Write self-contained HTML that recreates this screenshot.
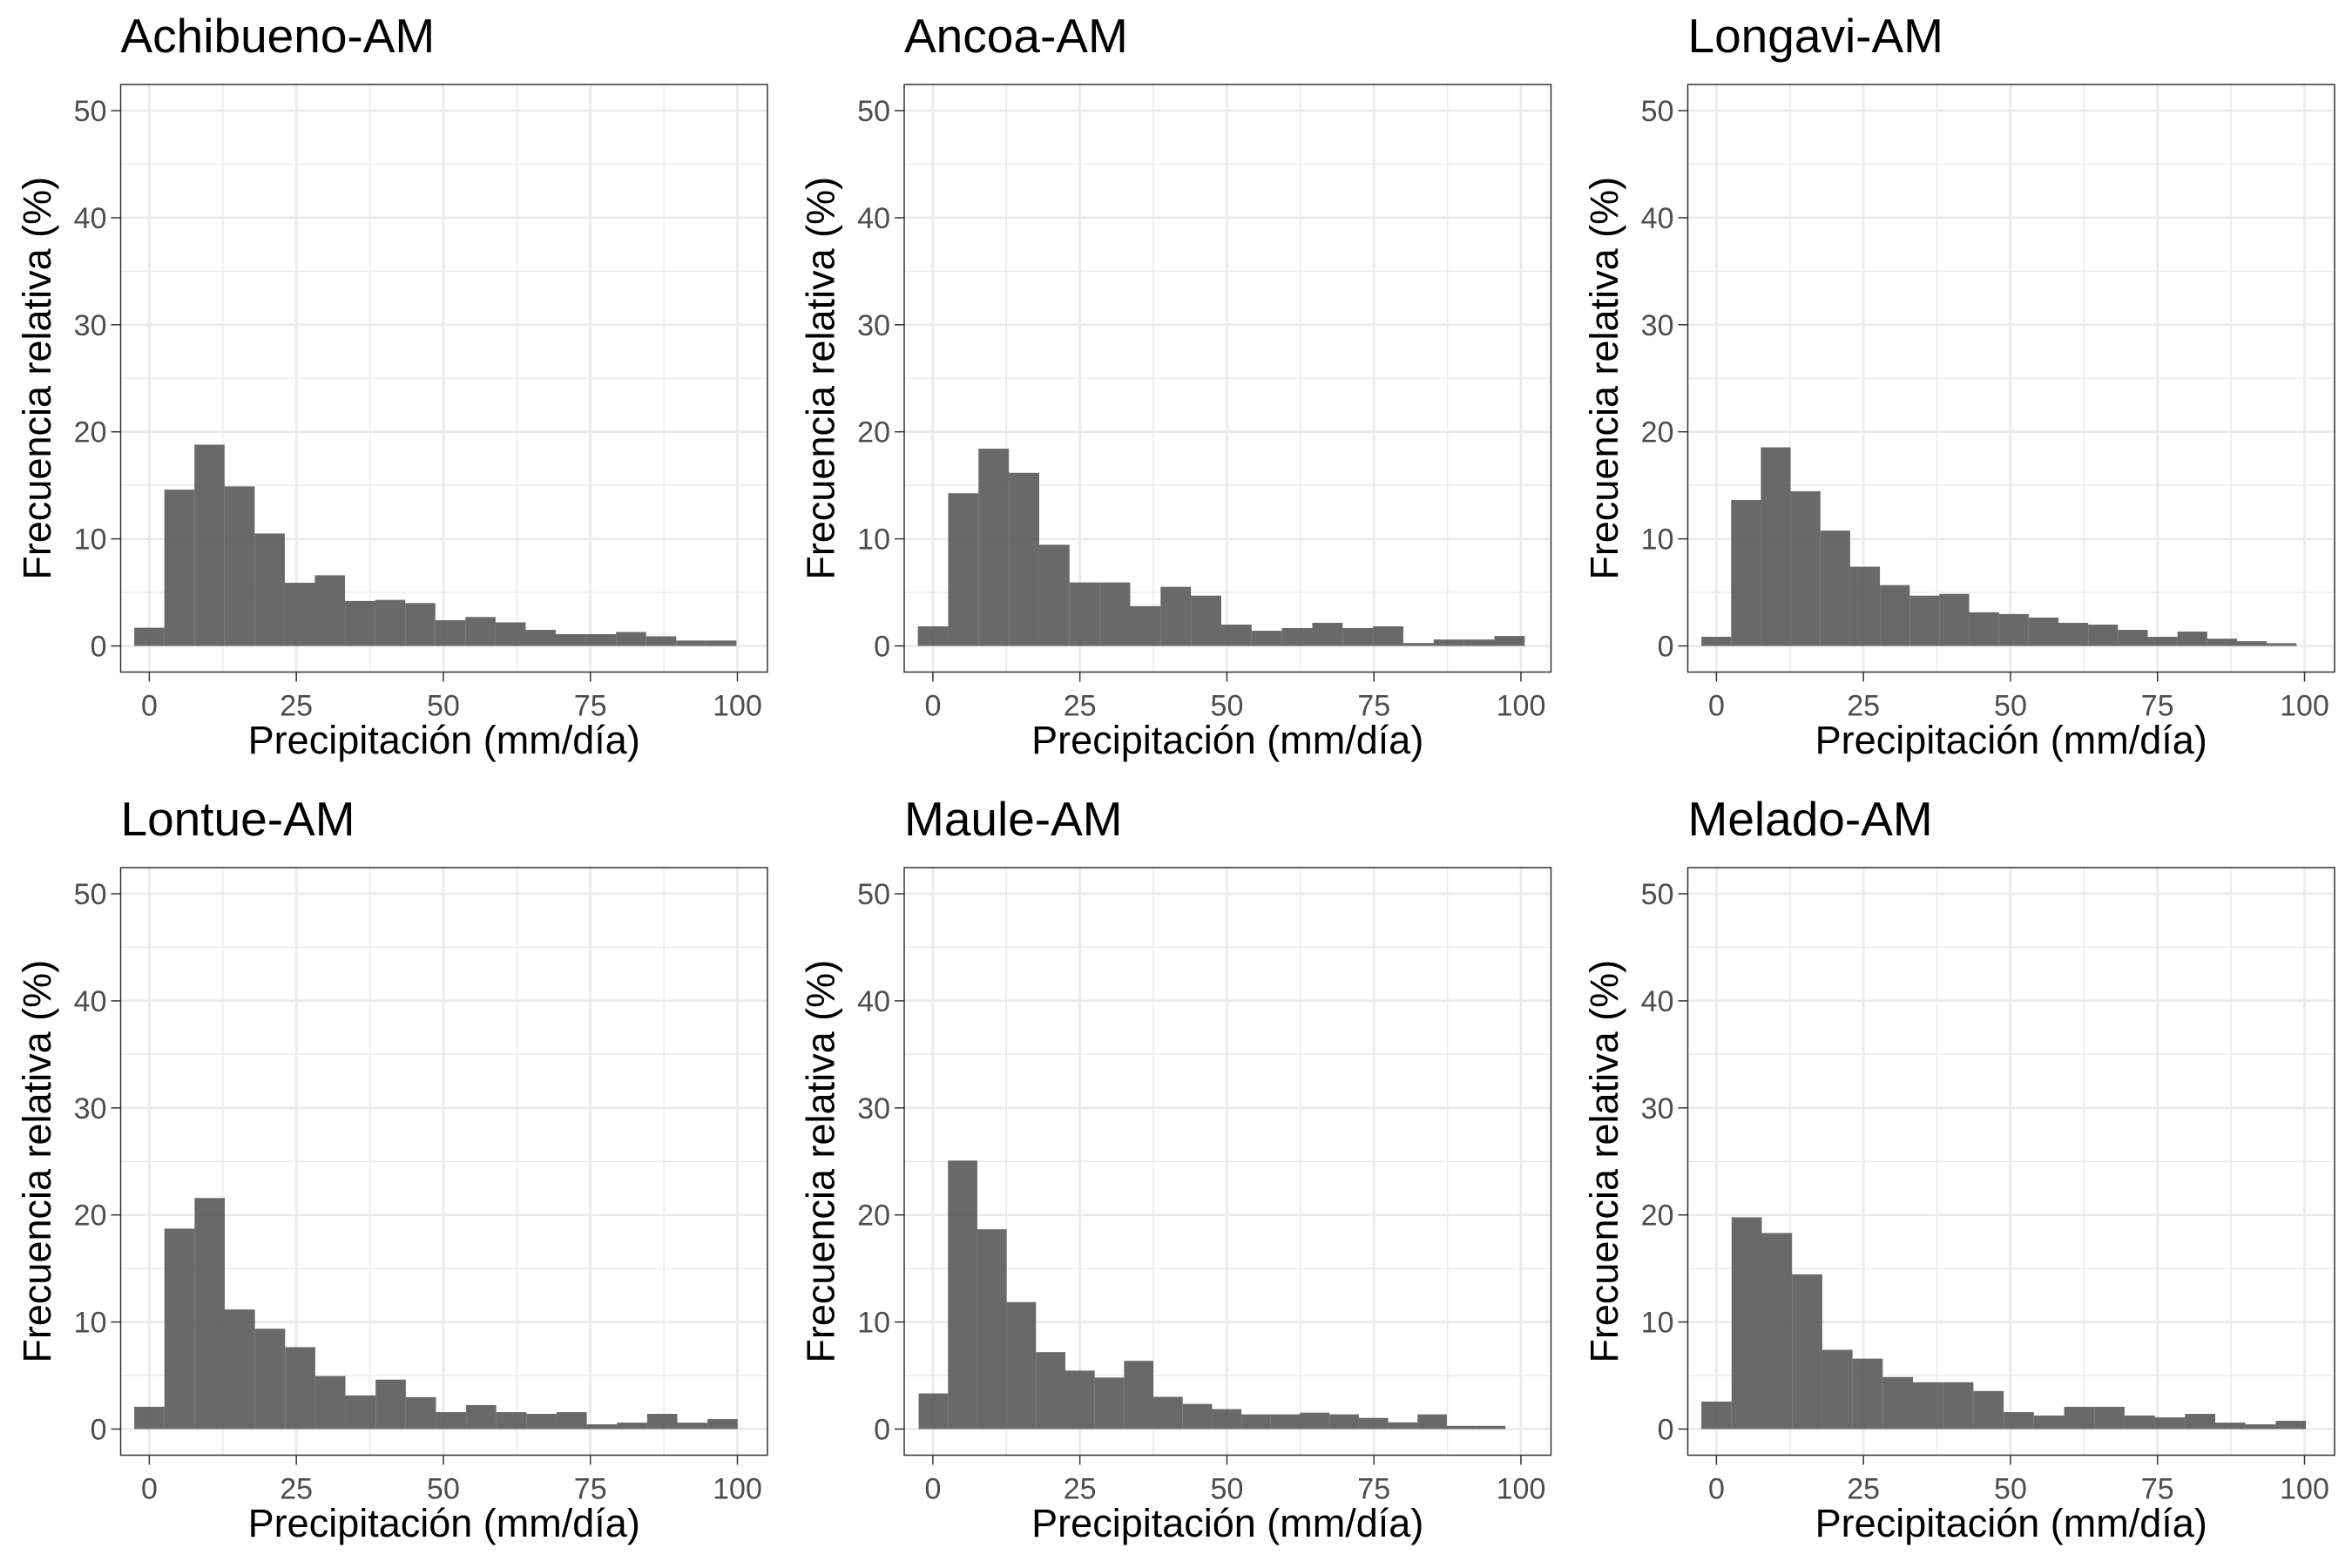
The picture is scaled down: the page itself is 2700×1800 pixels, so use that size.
<!DOCTYPE html>
<html><head><meta charset="utf-8"><style>
html,body{margin:0;padding:0;background:#fff;}
svg{display:block;font-family:"Liberation Sans",sans-serif;}
</style></head><body>
<svg id="fig" width="2700" height="1800" viewBox="0 0 2700 1800" xmlns="http://www.w3.org/2000/svg"></svg>
<script>
const panelNames = ["Achibueno-AM","Ancoa-AM","Longavi-AM","Lontue-AM","Maule-AM","Melado-AM"];
const binStarts = [-2.56,-2.56,-2.56,-2.56,-2.42,-2.56];
const binWidths = [5.12,5.16,5.06,5.13,4.99,5.14];
const achibueno = [1.7,14.6,18.8,14.9,10.5,5.9,6.6,4.2,4.3,4.0,2.4,2.7,2.2,1.5,1.1,1.1,1.3,0.9,0.5,0.5];
const ancoa = [1.83,14.26,18.42,16.17,9.45,5.93,5.93,3.72,5.52,4.70,1.99,1.42,1.67,2.16,1.67,1.83,0.27,0.60,0.60,0.93];
const longavi = [0.85,13.63,18.55,14.45,10.77,7.40,5.68,4.70,4.86,3.14,2.98,2.65,2.16,1.99,1.50,0.85,1.34,0.68,0.44,0.25];
const lontue = [2.08,18.72,21.58,11.17,9.37,7.65,4.95,3.14,4.62,2.98,1.58,2.24,1.58,1.42,1.58,0.44,0.60,1.42,0.60,0.93];
const maule = [3.33,25.08,18.66,11.86,7.19,5.46,4.81,6.37,3.01,2.35,1.86,1.37,1.37,1.53,1.37,1.04,0.63,1.37,0.30,0.30];
const melado = [2.57,19.78,18.31,14.45,7.40,6.58,4.86,4.37,4.37,3.55,1.58,1.26,2.08,2.08,1.26,1.09,1.42,0.60,0.44,0.77];
const seriesList = [achibueno,ancoa,longavi,lontue,maule,melado];
const xTicks = [0,25,50,75,100];
const yTicks = [0,10,20,30,40,50];
const xMinor = [12.5,37.5,62.5,87.5];
const yMinor = [5,15,25,35,45];

const NS="http://www.w3.org/2000/svg";
const svg=document.getElementById('fig');
function mk(tag,attrs,parent,text){const e=document.createElementNS(NS,tag);for(const k in attrs)e.setAttribute(k,attrs[k]);if(text!==undefined)e.textContent=text;parent.appendChild(e);return e;}

const boxW=742.5, boxH=674.5;
for(let p=0;p<6;p++){
  const ox=(p%3)*899.5, oy=Math.floor(p/3)*899;
  const L=138.5+ox, T=97+oy, R=L+boxW, B=T+boxH;
  const xs=v=>171.4+ox+(v)*(846.5-171.4)/100;
  const ys=v=>741.5+oy-v*12.29;
  const g=mk('g',{},svg);
  
  
  mk('rect',{x:L,y:T,width:boxW,height:boxH,fill:'#fff'},g);
  yMinor.forEach(v=>mk('line',{x1:L,x2:R,y1:ys(v),y2:ys(v),stroke:'#ebebeb','stroke-width':1.4},g));
  xMinor.forEach(v=>mk('line',{x1:xs(v),x2:xs(v),y1:T,y2:B,stroke:'#ebebeb','stroke-width':1.4},g));
  yTicks.forEach(v=>mk('line',{x1:L,x2:R,y1:ys(v),y2:ys(v),stroke:'#ebebeb','stroke-width':2.8},g));
  xTicks.forEach(v=>mk('line',{x1:xs(v),x2:xs(v),y1:T,y2:B,stroke:'#ebebeb','stroke-width':2.8},g));
  const data=seriesList[p];
  data.forEach((v,i)=>{
    const x0=binStarts[p]+i*binWidths[p];
    const r=mk('rect',{x:xs(x0),y:ys(v),width:xs(x0+binWidths[p])-xs(x0),height:ys(0)-ys(v),fill:'#595959','fill-opacity':0.9},g);
    
    
  });
  mk('rect',{x:L,y:T,width:boxW,height:boxH,fill:'none',stroke:'#333','stroke-width':1.5},g);
  yTicks.forEach(v=>{
    mk('line',{x1:L-11,x2:L,y1:ys(v),y2:ys(v),stroke:'#333','stroke-width':1.5},g);
    const t=mk('text',{x:L-16,y:ys(v)+12,'text-anchor':'end','font-size':34,fill:'#4d4d4d'},g,String(v));
    
    
  });
  xTicks.forEach(v=>{
    mk('line',{x1:xs(v),x2:xs(v),y1:B,y2:B+11,stroke:'#333','stroke-width':1.5},g);
    const t=mk('text',{x:xs(v),y:B+50,'text-anchor':'middle','font-size':34,fill:'#4d4d4d'},g,String(v));
    
    
  });
  const title=mk('text',{x:L,y:60+oy,'font-size':55,fill:'#000'},g,panelNames[p]);
  
  
  const xt=mk('text',{x:(L+R)/2,y:865+oy,'text-anchor':'middle','font-size':45,fill:'#000'},g,'Precipitación (mm/día)');
  
  
  const cy=(T+B)/2, cx=58+ox;
  const yt=mk('text',{x:cx,y:cy,'text-anchor':'middle','font-size':45,fill:'#000',transform:`rotate(-90 ${cx} ${cy})`},g,'Frecuencia relativa (%)');
  
  
}
</script>
</body></html>
